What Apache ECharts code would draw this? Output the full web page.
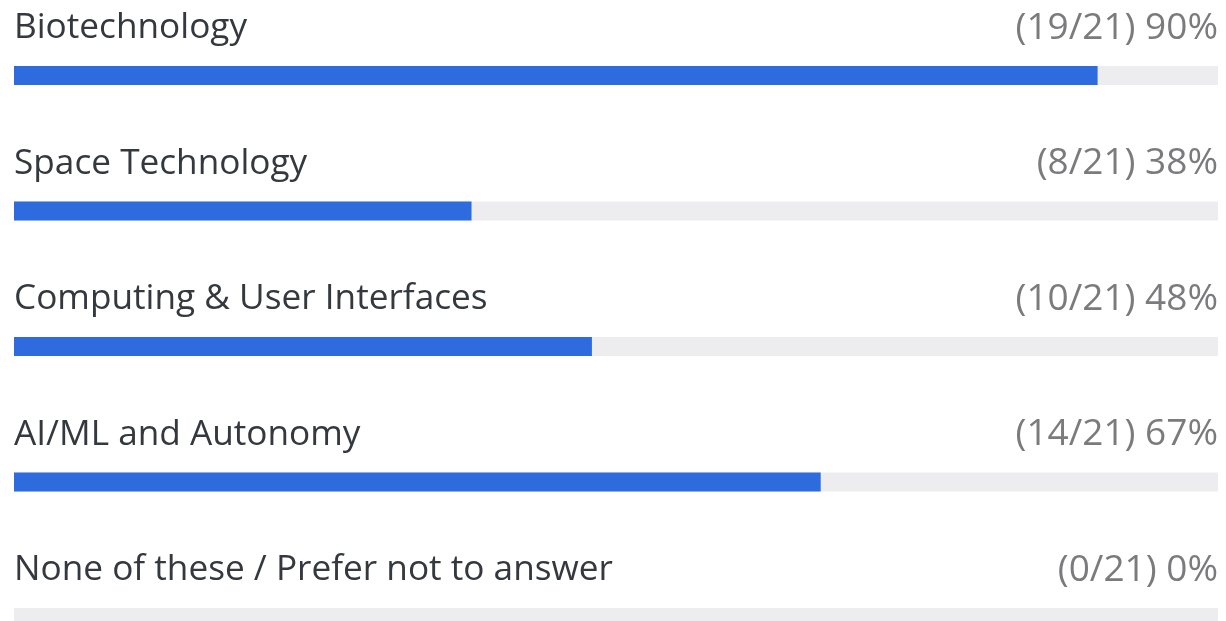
<!DOCTYPE html>
<html><head><meta charset="utf-8">
<script src="https://cdn.jsdelivr.net/npm/echarts@6/dist/echarts.min.js"></script>
<style>html,body{margin:0;padding:0;background:#fff}#c{width:1226px;height:621px}</style>
</head><body><div id="c"></div>
<script>
const categories = ["Biotechnology","Space Technology","Computing & User Interfaces","AI/ML and Autonomy","None of these / Prefer not to answer"];
const counts = [19, 8, 10, 14, 0];
const total = 21;
const percents = [90, 38, 48, 67, 0];
const trackMax = [100, 100, 100, 100, 100];

const chart = echarts.init(document.getElementById('c'), null, {renderer:'canvas'});
const font = '"Open Sans", "Noto Sans", sans-serif';
chart.setOption({
  animation: false,
  grid: {left: 14, right: 8, top: 7.75, height: 677.5, outerBoundsMode: 'none', containLabel: false},
  xAxis: {type: 'value', min: 0, max: 100, show: false},
  yAxis: {type: 'category', data: categories, inverse: true, show: false},
  series: [
    {
      type: 'bar', name: 'track', data: trackMax, barWidth: 19, barGap: '-100%',
      itemStyle: {color: '#ededf0'}, silent: true,
      label: {
        show: true, position: ['100%', -38], align: 'right', verticalAlign: 'middle',
        fontFamily: font, fontSize: 37, color: '#7b7b7e',
        formatter: p => '(' + counts[p.dataIndex] + '/' + total + ') ' + percents[p.dataIndex] + '%'
      }
    },
    {
      type: 'bar', name: 'share', data: percents, barWidth: 19, barGap: '-100%',
      itemStyle: {color: '#2d6bdf'},
      label: {
        show: true, position: [0, -38], align: 'left', verticalAlign: 'middle',
        fontFamily: font, fontSize: 35.2, color: '#34383f',
        formatter: p => categories[p.dataIndex]
      }
    }
  ]
});
</script></body></html>
